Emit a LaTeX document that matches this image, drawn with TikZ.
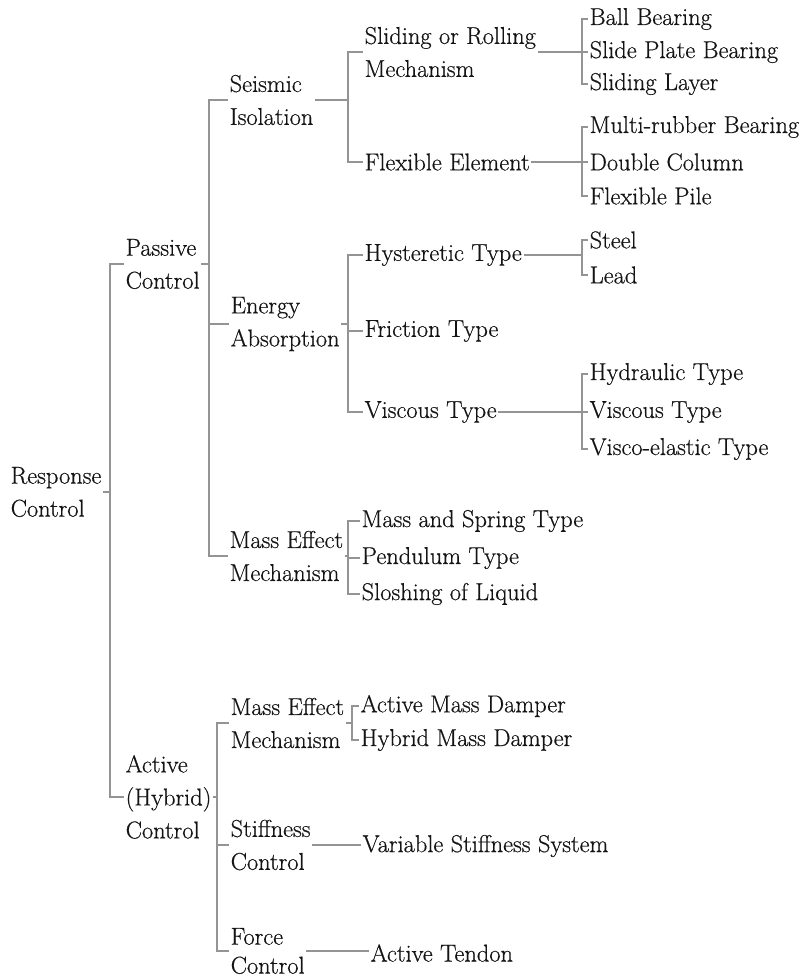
\documentclass[tikz,border=0pt]{standalone}
\usepackage{fontspec}
\setmainfont{Latin Modern Roman}[BoldFont=Latin Modern Roman,BoldFeatures={FakeBold=0.5}]
\begin{document}
\begin{tikzpicture}[x=1pt,y=-1pt,
  lbl/.style={anchor=west,align=left,inner xsep=1.5pt,inner ysep=0pt,
    text=black!92,font=\fontsize{24.4}{33}\selectfont\bfseries},
  conn/.style={draw=black!42,line width=1.1pt}]
\useasboundingbox (0,0) rectangle (803,977);

% root
\node[lbl] (rc) at (9,492) {Response\\Control};

% first level
\node[lbl] (pc) at (124,264) {Passive\\Control};
\node[lbl] (ac) at (124,797) {Active\\(Hybrid)\\Control};

% passive branches
\node[lbl] (si) at (228,100) {Seismic\\Isolation};
\node[lbl] (ea) at (229,324) {Energy\\Absorption};
\node[lbl] (mp) at (228,556) {Mass Effect\\Mechanism};

% active branches
\node[lbl] (ma) at (229,723) {Mass Effect\\Mechanism};
\node[lbl] (sc) at (229,845) {Stiffness\\Control};
\node[lbl,font=\fontsize{24.4}{29}\selectfont\bfseries] (fc) at (229,951) {Force\\Control};

% seismic isolation
\node[lbl] (sr) at (363,52) {Sliding or Rolling\\Mechanism};
\node[lbl] (fe) at (363,162) {Flexible Element};
\node[lbl] (bb) at (588,19) {Ball Bearing};
\node[lbl] (sp) at (588,52) {Slide Plate Bearing};
\node[lbl] (sl) at (588,84) {Sliding Layer};
\node[lbl] (mr) at (588,127) {Multi-rubber Bearing};
\node[lbl] (dc) at (588,162) {Double Column};
\node[lbl] (fp) at (588,196) {Flexible Pile};

% energy absorption
\node[lbl] (ht) at (363,255) {Hysteretic Type};
\node[lbl] (ft) at (363,331) {Friction Type};
\node[lbl] (vt) at (363,412) {Viscous Type};
\node[lbl] (st) at (588,240) {Steel};
\node[lbl] (ld) at (588,275) {Lead};
\node[lbl] (hy) at (588,374) {Hydraulic Type};
\node[lbl] (vv) at (588,412) {Viscous Type};
\node[lbl] (ve) at (588,449) {Visco-elastic Type};

% passive mass effect
\node[lbl] (ms) at (360,521) {Mass and Spring Type};
\node[lbl] (pt) at (360,558) {Pendulum Type};
\node[lbl] (sq) at (360,594) {Sloshing of Liquid};

% active devices
\node[lbl] (am) at (359,706) {Active Mass Damper};
\node[lbl] (hm) at (359,740) {Hybrid Mass Damper};
\node[lbl] (vs) at (361,846) {Variable Stiffness System};
\node[lbl] (at) at (369,953) {Active Tendon};

% bracket columns
\coordinate (b0) at (110,0);
\coordinate (b1) at (209,0);
\coordinate (b2) at (217,0);
\coordinate (b3) at (348,0);
\coordinate (b4) at (352,0);
\coordinate (b5) at (582,0);

% root to first level
\draw[conn] (rc.east) -- (rc.east -| b0);
\foreach \c in {pc,ac} \draw[conn] (rc.east -| b0) |- (\c.west);

% passive control
\draw[conn] (pc.east) -- (pc.east -| b1);
\foreach \c in {si,ea,mp} \draw[conn] (pc.east -| b1) |- (\c.west);

% active control
\draw[conn] (ac.east) -- (ac.east -| b2);
\foreach \c in {ma,sc,fc} \draw[conn] (ac.east -| b2) |- (\c.west);

% seismic isolation
\draw[conn] (si.east) -- (si.east -| b3);
\foreach \c in {sr,fe} \draw[conn] (si.east -| b3) |- (\c.west);

% energy absorption
\draw[conn] (ea.east) -- (ea.east -| b3);
\foreach \c in {ht,ft,vt} \draw[conn] (ea.east -| b3) |- (\c.west);

% passive mass effect
\draw[conn] (mp.east) -- (mp.east -| b3);
\foreach \c in {ms,pt,sq} \draw[conn] (mp.east -| b3) |- (\c.west);

% active mass effect
\draw[conn] (ma.east) -- (ma.east -| b4);
\foreach \c in {am,hm} \draw[conn] (ma.east -| b4) |- (\c.west);

% single-device links
\draw[conn] (sc.east) -- (sc.east -| vs.west);
\draw[conn] (fc.east) -- (fc.east -| at.west);

% third level
\draw[conn] (sr.east) -- (sr.east -| b5);
\foreach \c in {bb,sp,sl} \draw[conn] (sr.east -| b5) |- (\c.west);
\draw[conn] (fe.east) -- (fe.east -| b5);
\foreach \c in {mr,dc,fp} \draw[conn] (fe.east -| b5) |- (\c.west);
\draw[conn] (ht.east) -- (ht.east -| b5);
\foreach \c in {st,ld} \draw[conn] (ht.east -| b5) |- (\c.west);
\draw[conn] (vt.east) -- (vt.east -| b5);
\foreach \c in {hy,vv,ve} \draw[conn] (vt.east -| b5) |- (\c.west);
\end{tikzpicture}
\end{document}
